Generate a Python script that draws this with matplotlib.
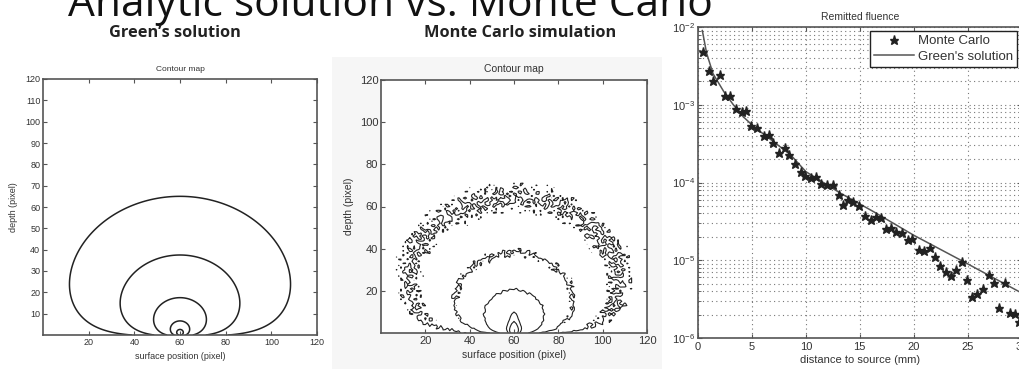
import numpy as np
import matplotlib
matplotlib.use("Agg")
import matplotlib.pyplot as plt
from matplotlib.patches import Rectangle
from matplotlib.ticker import FixedLocator, LogLocator, NullFormatter, FuncFormatter

plt.rcParams["font.family"] = ["Liberation Sans", "DejaVu Sans"]
plt.rcParams["mathtext.default"] = "regular"

# ---------------- data ----------------
main_title = "Analytic solution vs. Monte Carlo"
panel_headings = ["Green\u2019s solution", "Monte Carlo simulation"]
contour_title = "Contour map"
contour_xlabel = "surface position (pixel)"
contour_ylabel = "depth (pixel)"

# diffusion model used for the contour maps (pixel units)
mu_eff = 0.05
source_x = 60.0
source_depth = 1.0
extrapolated_boundary = 0.5
green_contour_tops = [65.0, 37.5, 17.5, 6.6, 2.6]   # depth where each contour crosses x = 60
mc_contour_tops = [64.0, 38.0, 21.0, 10.0, 5.5]
mc_counts_at_outer = 8.0
mc_ballistic_amplitude = 0.377    # narrow forward-scattered column under the source
mc_ballistic_depth = 8.0
mc_ballistic_width = 1.2

green_xticks = [20, 40, 60, 80, 100, 120]
green_yticks = [10, 20, 30, 40, 50, 60, 70, 80, 90, 100, 110, 120]
mc_xticks = [20, 40, 60, 80, 100, 120]
mc_yticks = [20, 40, 60, 80, 100, 120]

fluence_title = "Remitted fluence"
fluence_xlabel = "distance to source (mm)"
fluence_xticks = [0, 5, 10, 15, 20, 25, 30]
legend_labels = ["Monte Carlo", "Green's solution"]

mc_distance = [0.43, 1.02, 1.43, 2.05, 2.51, 2.98, 3.5, 4.06, 4.43, 4.93, 5.46, 6.08,
               6.54, 6.95, 7.47, 8.03, 8.47, 9.02, 9.58, 9.95, 10.46, 10.96, 11.42,
               11.94, 12.5, 13.1, 13.45, 13.9, 14.4, 14.9, 15.45, 16.0, 16.5, 17.0,
               17.4, 17.9, 18.4, 18.9, 19.45, 19.85, 20.45, 20.93, 21.47, 21.97,
               22.42, 23.0, 23.48, 23.96, 24.5, 24.95, 25.42, 25.88, 26.46, 27.0,
               27.42, 27.92, 28.47, 28.93, 29.36, 29.8]
mc_fluence = [4.8e-3, 2.74e-3, 2.02e-3, 2.42e-3, 1.30e-3, 1.30e-3, 8.7e-4, 8.1e-4,
              8.3e-4, 5.33e-4, 5.07e-4, 3.96e-4, 4.05e-4, 3.19e-4, 2.37e-4, 2.75e-4,
              2.26e-4, 1.73e-4, 1.38e-4, 1.21e-4, 1.14e-4, 1.16e-4, 9.6e-5, 9.3e-5,
              9.3e-5, 6.9e-5, 5.1e-5, 5.9e-5, 5.6e-5, 5.0e-5, 3.68e-5, 3.3e-5,
              3.6e-5, 3.46e-5, 2.56e-5, 2.62e-5, 2.3e-5, 2.22e-5, 1.82e-5, 1.86e-5,
              1.36e-5, 1.3e-5, 1.43e-5, 1.1e-5, 8.4e-6, 7.1e-6, 6.2e-6, 7.4e-6,
              9.6e-6, 5.5e-6, 3.4e-6, 3.65e-6, 4.25e-6, 6.55e-6, 5.1e-6, 2.41e-6,
              5.1e-6, 2.1e-6, 2.05e-6, 1.62e-6]
green_distance = [0.4, 0.8, 1.4, 2.4, 3.3, 4.2, 5.2, 7.0, 8.6, 10.0, 13.2, 16.3, 20.0, 24.5, 30.0]
green_fluence = [9e-3, 4.6e-3, 2.5e-3, 1.47e-3, 9.9e-4, 7.0e-4, 5.2e-4, 3.35e-4, 2.26e-4,
                 1.38e-4, 7.3e-5, 4.2e-5, 2.1e-5, 9.8e-6, 3.8e-6]

# ---------------- helpers ----------------
TXT = "#333333"
LINE = "#222222"


def green_field(X, Z):
    r1 = np.maximum(np.hypot(X - source_x, Z - source_depth), 1e-3)
    r2 = np.hypot(X - source_x, Z + source_depth + 2 * extrapolated_boundary)
    return np.exp(-mu_eff * r1) / r1 - np.exp(-mu_eff * r2) / r2


def mc_mean_field(X, Z):
    column = (mc_ballistic_amplitude * np.exp(-(Z / mc_ballistic_depth) ** 2)
              * np.exp(-0.5 * ((X - source_x) / mc_ballistic_width) ** 2))
    return green_field(X, Z) + column


def style_matlab(ax, fs):
    for s in ax.spines.values():
        s.set_color("#555555")
        s.set_linewidth(1.2)
    ax.tick_params(direction="in", length=3, width=0.8, top=True, right=True,
                   colors="#555555", labelcolor=TXT, labelsize=fs, pad=2)


W, H = 1020, 369
fig = plt.figure(figsize=(W / 100, H / 100), dpi=100)

def fbox(l, t, r, b):
    return [l / W, 1 - b / H, (r - l) / W, (b - t) / H]

# light background of the middle screenshot
fig.add_artist(Rectangle((332 / W, 0), 330 / W, (H - 57) / H, transform=fig.transFigure,
                         facecolor="#f6f6f6", edgecolor="none", zorder=0))

fig.text(68 / W, 1 - 15.5 / H, main_title, family="Open Sans", fontsize=30.6,
         ha="left", va="baseline", color="#111111")
fig.text(175 / W, 1 - 37 / H, panel_headings[0], family="Open Sans", fontweight="bold",
         fontsize=11.8, ha="center", va="baseline", color="#222222")
fig.text(520 / W, 1 - 37 / H, panel_headings[1], family="Open Sans", fontweight="bold",
         fontsize=11.8, ha="center", va="baseline", color="#222222")

# ---- Green's contour map ----
ax1 = fig.add_axes(fbox(43, 79, 317, 335))
xg = np.linspace(0, 120, 481)
X, Z = np.meshgrid(xg, xg)
G = green_field(X, Z)
levels = np.sort([green_field(source_x, t) for t in green_contour_tops])
ax1.contour(X, Z, G, levels=levels, colors=LINE, linewidths=1.1)
ax1.set_xlim(0, 120)
ax1.set_ylim(0, 120)
ax1.xaxis.set_major_locator(FixedLocator(green_xticks))
ax1.yaxis.set_major_locator(FixedLocator(green_yticks))
style_matlab(ax1, 6.5)
ax1.set_title(contour_title, fontsize=6, color=TXT, pad=6)
ax1.set_xlabel(contour_xlabel, fontsize=6.5, color=TXT, labelpad=4)
ax1.set_ylabel(contour_ylabel, fontsize=6.5, color=TXT, labelpad=5)

# ---- Monte Carlo contour map ----
ax2 = fig.add_axes(fbox(381, 80, 647, 333))
ib = np.arange(0, 121)
IX, IZ = np.meshgrid(ib, ib)
IXf, IZf = IX.astype(float), IZ.astype(float)
ref = mc_mean_field(source_x, mc_contour_tops[0])
expected = mc_counts_at_outer * mc_mean_field(IXf, IZf) / ref
# deterministic counting-noise texture (per-pixel hash)
tex = (np.sin(IXf * 12.9898 + IZf * 78.233) * 43758.5453) % 1.0
tex = (2 * tex - 1) * np.sqrt(3)
observed = expected + np.sqrt(np.maximum(expected, 0)) * tex
mc_levels = np.sort([mc_counts_at_outer * mc_mean_field(source_x, t) / ref for t in mc_contour_tops])
ax2.contour(IX, IZ, observed, levels=mc_levels, colors=LINE, linewidths=0.8)
ax2.set_xlim(0, 120)
ax2.set_ylim(0, 120)
ax2.xaxis.set_major_locator(FixedLocator(mc_xticks))
ax2.yaxis.set_major_locator(FixedLocator(mc_yticks))
style_matlab(ax2, 8)
ax2.set_title(contour_title, fontsize=7.5, color=TXT, pad=6)
ax2.set_xlabel(contour_xlabel, fontsize=7.5, color=TXT, labelpad=3)
ax2.set_ylabel(contour_ylabel, fontsize=7.5, color=TXT, labelpad=4)

# ---- Remitted fluence ----
ax3 = fig.add_axes(fbox(698, 27, 1021.5, 338))
ax3.set_yscale("log")
ax3.plot(green_distance, green_fluence, color="#555555", lw=1.1, label=legend_labels[1], zorder=3)
ax3.plot(mc_distance, mc_fluence, ls="none", marker="*", ms=6.5, color="#222222",
         label=legend_labels[0], zorder=4)
ax3.set_xlim(0, 30)
ax3.set_ylim(1e-6, 1e-2)
ax3.xaxis.set_major_locator(FixedLocator(fluence_xticks))
ax3.yaxis.set_major_locator(LogLocator(base=10, numticks=10))
ax3.yaxis.set_minor_locator(LogLocator(base=10, subs=np.arange(2, 10), numticks=10))
ax3.yaxis.set_minor_formatter(NullFormatter())
ax3.yaxis.set_major_formatter(FuncFormatter(lambda v, p: r"$10^{%d}$" % round(np.log10(v))))
style_matlab(ax3, 8)
ax3.tick_params(axis="x", pad=3)
ax3.tick_params(which="minor", direction="in", length=2, right=True, colors="#555555")
ax3.grid(True, which="both", axis="y", ls=(0, (1, 3)), color="#777777", lw=0.8)
ax3.grid(True, which="major", axis="x", ls=(0, (1, 3)), color="#777777", lw=0.8)
ax3.set_title(fluence_title, fontsize=7.5, color=TXT, pad=5)
ax3.set_xlabel(fluence_xlabel, fontsize=8, color=TXT, labelpad=2)
h, l = ax3.get_legend_handles_labels()
leg = ax3.legend(h[::-1], l[::-1], loc="upper right", bbox_to_anchor=(0.986, 0.987),
                 fontsize=9.5, frameon=True, fancybox=False, edgecolor="#222222",
                 framealpha=1, borderaxespad=0, handlelength=3.0, handletextpad=0.3,
                 labelspacing=0.25, borderpad=0.3)
leg.get_frame().set_linewidth(1.0)
for t in leg.get_texts():
    t.set_color(TXT)

fig.savefig("out.png", dpi=100)
